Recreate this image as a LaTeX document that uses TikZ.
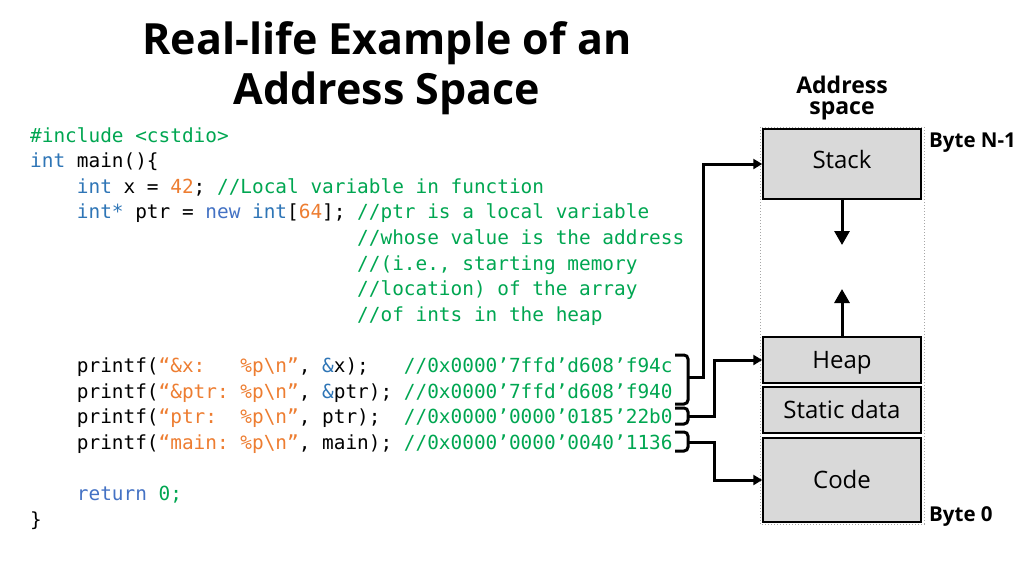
\documentclass[tikz,border=0pt]{standalone}
\usepackage{fontspec}
\setmainfont{Open Sans}
\newfontfamily\codefont{DejaVu Sans Mono}
\usetikzlibrary{arrows.meta}

\definecolor{cmgreen}{RGB}{0,166,81}
\definecolor{kwblue}{RGB}{46,117,182}
\definecolor{nwblue}{RGB}{68,114,196}
\definecolor{litorange}{RGB}{237,125,49}
\definecolor{segfill}{RGB}{217,217,217}

\newcommand{\cm}[1]{\textcolor{cmgreen}{#1}}
\newcommand{\kw}[1]{\textcolor{kwblue}{#1}}
\newcommand{\nw}[1]{\textcolor{nwblue}{#1}}
\newcommand{\lit}[1]{\textcolor{litorange}{#1}}
\newcommand{\tab}{~~~~}

\begin{document}
\begin{tikzpicture}[x=1pt, y=-1pt,
	codeline/.style = { anchor=base west, inner sep=0pt,
	font=\codefont\fontsize{19.4}{22}\selectfont\frenchspacing },
	seg/.style = { rectangle, draw=black, line width=1.5pt, fill=segfill,
	minimum width=158pt, font=\fontsize{24}{26}\selectfont,
	text height=17pt, text depth=1pt },
	bytelabel/.style = { inner sep=0pt, font=\bfseries\fontsize{20.5}{21}\selectfont },
	growarrow/.style = { line width=3pt, -{Triangle[length=14pt, width=15pt]} },
	conn/.style = { line width=3pt, -{Triangle[length=9pt, width=10pt]} },
	brk/.style = { line width=3pt, rounded corners=4pt } ]

  \useasboundingbox (0,0) rectangle (1024,576);

  % title
  \node [name=title, anchor=base, inner sep=0pt, align=center,
	font=\bfseries\fontsize{43}{50}\selectfont] at (387,104)
	{Real-life Example of an\\Address Space};

  % the program
  \node [name=l1, codeline] at (30,142.0) {\cm{\#include <cstdio>}};
  \node [name=l2, codeline] at (30,167.6) {\kw{int} main()\{};
  \node [name=l3, codeline] at (30,193.2)
	{\tab\kw{int} x = \lit{42}; \cm{//Local variable in function}};
  \node [name=l4, codeline] at (30,218.8)
	{\tab\kw{int*} ptr = \nw{new} \kw{int}[\lit{64}]; \cm{//ptr is a local variable}};
  \node [name=l5, codeline] at (30,244.4)
	{\tab\tab\tab\tab\tab\tab\tab\cm{//whose value is the address}};
  \node [name=l6, codeline] at (30,270.0)
	{\tab\tab\tab\tab\tab\tab\tab\cm{//(i.e., starting memory}};
  \node [name=l7, codeline] at (30,295.6)
	{\tab\tab\tab\tab\tab\tab\tab\cm{//location) of the array}};
  \node [name=l8, codeline] at (30,321.2)
	{\tab\tab\tab\tab\tab\tab\tab\cm{//of ints in the heap}};
  \node [name=l9, codeline] at (30,372.4)
	{\tab printf(\lit{“\&x:~~~\%p\textbackslash n”}, \kw{\&}x);~~~\cm{//0x0000’7ffd’d608’f94c}};
  \node [name=l10, codeline] at (30,398.0)
	{\tab printf(\lit{“\&ptr: \%p\textbackslash n”}, \kw{\&}ptr); \cm{//0x0000’7ffd’d608’f940}};
  \node [name=l11, codeline] at (30,423.6)
	{\tab printf(\lit{“ptr:~~\%p\textbackslash n”}, ptr);~~\cm{//0x0000’0000’0185’22b0}};
  \node [name=l12, codeline] at (30,449.2)
	{\tab printf(\lit{“main: \%p\textbackslash n”}, main); \cm{//0x0000’0000’0040’1136}};
  \node [name=l13, codeline] at (30,500.4) {\tab\nw{return} \cm{0;}};
  \node [name=l14, codeline] at (30,526.0) {\}};

  % address space
  \draw [gray!70, dotted, line width=1pt] (760,127) rectangle (924,524);
  \node [name=stack, seg, minimum height=70pt, text depth=9pt] at (842,164) {Stack};
  \node [name=heap, seg, minimum height=46pt] at (842,360) {Heap};
  \node [name=static, seg, minimum height=46pt] at (842,410) {Static data};
  \node [name=code, seg, minimum height=84pt] at (842,480) {Code};

  \node [name=addr, anchor=base, align=center, inner sep=0pt,
	font=\bfseries\fontsize{23}{21}\selectfont] at (842,114) {Address\\space};
  \node [name=top, bytelabel, anchor=base west] at (929,147) {Byte N-1};
  \node [name=bottom, bytelabel, anchor=base west] at (929,521) {Byte 0};

  \coordinate (stackend) at (842,245);
  \coordinate (heapend) at (842,289);
  \draw [growarrow] (stack.south) -- (stackend);
  \draw [growarrow] (heap.north) -- (heapend);

  % brackets round the printed addresses
  \draw [brk] (675,355) -| (688,404) -- (675,404);
  \draw [brk] (675,408) -| (688,424) -- (675,424);
  \draw [brk] (675,432) -| (688,451) -- (675,451);
  \coordinate (b1) at (688,377);
  \coordinate (b2) at (688,416);
  \coordinate (b3) at (688,442);

  \draw [conn] (b1) -- ++(15,0) |- (stack.west);
  \draw [conn] (b2) -- ++(26,0) |- (heap.west);
  \draw [conn] (b3) -- ++(26,0) |- (code.west);
\end{tikzpicture}
\end{document}
